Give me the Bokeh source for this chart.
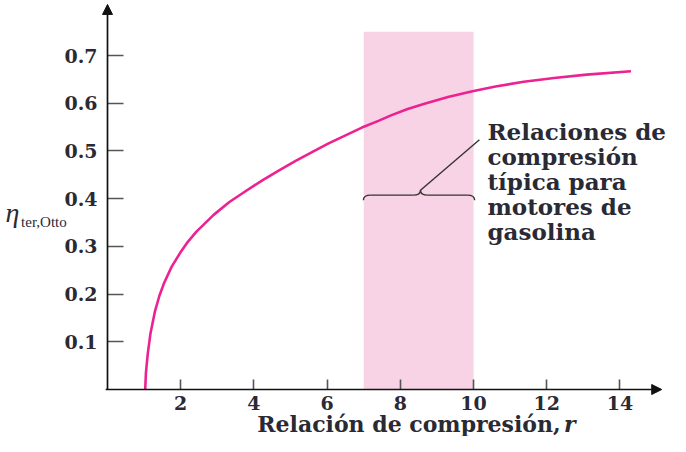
from bokeh.plotting import figure
from bokeh.models import Range1d, Label, Arrow, NormalHead, FixedTicker, ColumnDataSource
from bokeh.core.properties import value
from bokeh.embed import file_html
from bokeh.resources import INLINE

# ---- data ----
r_vals = [1.03, 1.05, 1.10, 1.175, 1.30, 1.42, 1.54, 1.75, 1.99, 2.20, 2.43, 2.90,
          3.33, 3.80, 4.24, 4.70, 5.14, 5.60, 6.04, 6.95, 7.40, 7.76, 8.20, 8.66,
          9.30, 9.97, 10.6, 11.37, 12.2, 13.09, 14.3]
eta_vals = [0.0, 0.035, 0.075, 0.118, 0.165, 0.197, 0.222, 0.257, 0.287, 0.310, 0.331, 0.366,
            0.393, 0.417, 0.439, 0.460, 0.479, 0.498, 0.516, 0.549, 0.563, 0.575, 0.588, 0.599,
            0.613, 0.625, 0.635, 0.645, 0.653, 0.660, 0.667]

band_left = [7.0]
band_right = [10.0]
band_top = [0.75]

x_ticks = [2, 4, 6, 8, 10, 12, 14]
y_ticks = [0.1, 0.2, 0.3, 0.4, 0.5, 0.6, 0.7]
y_tick_labels = ["0.1", "0.2", "0.3", "0.4", "0.5", "0.6", "0.7"]

note_lines = ["Relaciones de", "compresión", "típica para", "motores de", "gasolina"]
x_label = "Relación de compresión,"
x_label_var = "r"
y_label_main = "η"
y_label_sub = "ter,Otto"

# ---- layout / annotation geometry (data units) ----
X_RANGE = (-2.923, 15.38)
Y_RANGE = (-0.0985, 0.8153)
ARROW_X_END = 15.14
ARROW_Y_END = 0.807
NOTE_X = 10.38
NOTE_Y0 = 0.5408
NOTE_STEP = 0.0524
BRACE_L, BRACE_R, BRACE_C = 6.99, 10.03, 8.55
BRACE_YH, BRACE_YTIP, BRACE_YPEAK = 0.4073, 0.3967, 0.4177
BRACE_DX = 0.2
LEADER_END = (10.16, 0.5234)
XLABEL_Y = -0.0721
XLABEL_END = 12.38
XLABEL_VAR_END = 12.79
YLABEL_MAIN_POS = (-2.787, 0.371)
YLABEL_SUB_POS = (-2.36, 0.352)

TEXT_COLOR = "#2a2a35"
SERIF = "DejaVu Serif"

p = figure(width=670, height=436,
           x_range=Range1d(*X_RANGE), y_range=Range1d(*Y_RANGE),
           min_border_left=0, min_border_right=0, min_border_top=0, min_border_bottom=0,
           output_backend="svg", toolbar_location=None)
p.outline_line_color = None
p.xgrid.grid_line_color = None
p.ygrid.grid_line_color = None
p.background_fill_color = "white"
p.border_fill_color = "white"

# shaded band of typical compression ratios
band_src = ColumnDataSource(dict(left=band_left, right=band_right,
                                 top=band_top, bottom=[0.0] * len(band_left)))
p.quad(left="left", right="right", top="top", bottom="bottom", source=band_src,
       fill_color="#F8D3E5", line_color=None)

# efficiency curve
p.line(r_vals, eta_vals, line_color="#EC2290", line_width=2.6, line_join="round")

# axes, fixed at the origin inside the frame
for ax in (p.xaxis[0], p.yaxis[0]):
    ax.fixed_location = 0
    ax.axis_line_color = None
    ax.minor_tick_line_color = None
    ax.major_tick_out = 0
    ax.major_tick_line_color = "#555555"
    ax.major_tick_line_width = 1.6
    ax.major_label_text_font = SERIF
    ax.major_label_text_font_style = "bold"
    ax.major_label_text_font_size = "19px"
    ax.major_label_text_color = TEXT_COLOR

p.xaxis.ticker = FixedTicker(ticks=x_ticks)
p.xaxis.major_tick_in = 10
p.xaxis.major_label_standoff = 6
p.yaxis.ticker = FixedTicker(ticks=y_ticks)
p.yaxis.major_label_overrides = {t: s for t, s in zip(y_ticks, y_tick_labels)}
p.yaxis.major_tick_in = 16
p.yaxis.major_label_standoff = 10

# axis arrows
p.add_layout(Arrow(end=NormalHead(size=10, fill_color="#111111", line_color="#111111"),
                   x_start=-0.05, y_start=0, x_end=ARROW_X_END, y_end=0,
                   line_color="#111111", line_width=1.7))
p.add_layout(Arrow(end=NormalHead(size=10, fill_color="#111111", line_color="#111111"),
                   x_start=0, y_start=0, x_end=0, y_end=ARROW_Y_END,
                   line_color="#111111", line_width=1.7))

# brace
xl, xr, xc, dx = BRACE_L, BRACE_R, BRACE_C, BRACE_DX
yh, yt, yp = BRACE_YH, BRACE_YTIP, BRACE_YPEAK
p.quadratic(x0=[xl, xc - dx, xc, xr - dx], y0=[yt, yh, yp, yh],
            x1=[xl + dx, xc, xc + dx, xr], y1=[yh, yp, yh, yt],
            cx=[xl, xc, xc, xr], cy=[yh, yh, yh, yh],
            line_color="#333333", line_width=1.4)
p.segment(x0=[xl + dx, xc + dx], y0=[yh, yh], x1=[xc - dx, xr - dx], y1=[yh, yh],
          line_color="#333333", line_width=1.4)
# leader line
p.segment(x0=[xc], y0=[yp], x1=[LEADER_END[0]], y1=[LEADER_END[1]],
          line_color="#333333", line_width=1.4)

# note text
note_src = ColumnDataSource(dict(
    x=[NOTE_X] * len(note_lines),
    y=[NOTE_Y0 - i * NOTE_STEP for i in range(len(note_lines))],
    t=note_lines))
p.text(x="x", y="y", text="t", source=note_src,
       text_font=value(SERIF), text_font_style="bold", text_font_size="23px",
       text_color=TEXT_COLOR, text_align="left", text_baseline="middle")

# x axis label
p.add_layout(Label(x=XLABEL_END, y=XLABEL_Y, text=x_label, text_align="right",
                   text_baseline="middle", text_font=SERIF, text_font_style="bold",
                   text_font_size="22px", text_color=TEXT_COLOR))
p.add_layout(Label(x=XLABEL_VAR_END, y=XLABEL_Y, text=x_label_var, text_align="right",
                   text_baseline="middle", text_font=SERIF,
                   text_font_style="bold italic",
                   text_font_size="22px", text_color=TEXT_COLOR))

# y axis label: eta with subscript
p.add_layout(Label(x=YLABEL_MAIN_POS[0], y=YLABEL_MAIN_POS[1], text=y_label_main,
                   text_align="left", text_baseline="middle",
                   text_font="Liberation Serif", text_font_style="italic",
                   text_font_size="28px", text_color=TEXT_COLOR))
p.add_layout(Label(x=YLABEL_SUB_POS[0], y=YLABEL_SUB_POS[1], text=y_label_sub,
                   text_align="left", text_baseline="middle",
                   text_font="Liberation Serif", text_font_size="15px",
                   text_color=TEXT_COLOR))

open("out.html", "w").write(file_html(p, INLINE))
